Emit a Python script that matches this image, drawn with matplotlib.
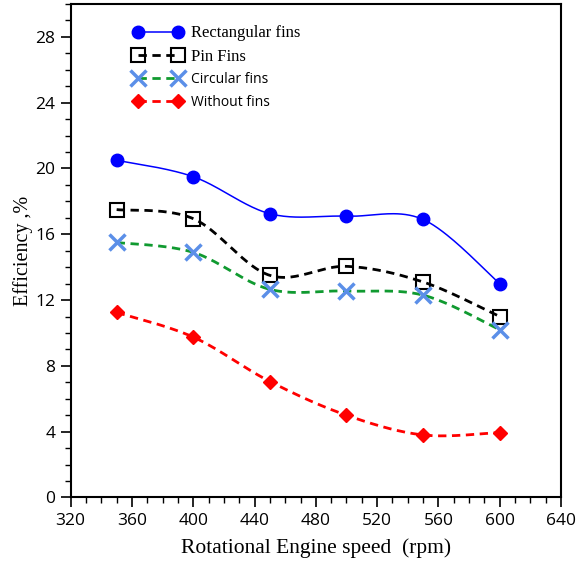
import numpy as np
import matplotlib.pyplot as plt

speed = [350, 400, 450, 500, 550, 600]
rect_fins = [20.5, 19.5, 17.25, 17.1, 16.9, 13.0]
pin_fins = [17.5, 16.95, 13.5, 14.05, 13.1, 11.0]
circ_fins = [15.5, 14.9, 12.65, 12.55, 12.3, 10.2]
no_fins = [11.25, 9.75, 7.05, 5.0, 3.8, 3.95]


def smooth(x, y, n=40):
    # Excel-like smoothed line (Catmull-Rom through the points)
    p = np.column_stack([x, y]).astype(float)
    p = np.vstack([p[0], p, p[-1]])
    out = []
    t = np.linspace(0, 1, n)[:, None]
    for i in range(1, len(p) - 2):
        a, d = p[i], p[i + 1]
        b = a + (p[i + 1] - p[i - 1]) / 6
        c = d - (p[i + 2] - p[i]) / 6
        seg = (1 - t) ** 3 * a + 3 * (1 - t) ** 2 * t * b + 3 * (1 - t) * t ** 2 * c + t ** 3 * d
        out.append(seg)
    s = np.vstack(out)
    return s[:, 0], s[:, 1]


fig = plt.figure(figsize=(5.77, 5.65), dpi=100)
ax = fig.add_axes([0.1225, 0.1195, 0.8498, 0.8735])

series = [
    (rect_fins, 'Rectangular fins', dict(color='#0000FF', ls='-', lw=1.1),
     dict(marker='o', ms=9, mfc='#0000FF', mec='#0000FF')),
    (pin_fins, 'Pin Fins', dict(color='black', ls=(0, (3, 2)), lw=2),
     dict(marker='s', ms=9.5, mfc='none', mec='black', mew=1.5)),
    (circ_fins, 'Circular fins', dict(color='#109A30', ls=(0, (3, 2)), lw=2),
     dict(marker='x', ms=11, mec='#5B8FE8', mew=2.5)),
    (no_fins, 'Without fins', dict(color='#FF0000', ls=(0, (3, 2)), lw=2),
     dict(marker='D', ms=7, mfc='#FF0000', mec='#FF0000')),
]

handles = []
for vals, name, lstyle, mstyle in series:
    sx, sy = smooth(speed, vals)
    ax.plot(sx, sy, **lstyle, zorder=2)
    ax.plot(speed, vals, ls='none', **mstyle, zorder=3)
    h, = ax.plot([], [], label=name, **lstyle, **mstyle)
    handles.append(h)

ax.set_xlim(320, 640)
ax.set_ylim(0, 30)
ax.set_xticks(np.arange(320, 641, 40))
ax.set_yticks(np.arange(0, 29, 4))
ax.set_xticks(np.arange(320, 641, 10), minor=True)
ax.set_yticks(np.arange(0, 31, 1), minor=True)
ax.tick_params(which='major', direction='out', length=7, width=1.2, labelsize=12.5, pad=4)
ax.tick_params(which='minor', direction='out', length=4, width=1.0)
for lab in ax.get_xticklabels() + ax.get_yticklabels():
    lab.set_fontfamily('Open Sans')
for sp in ax.spines.values():
    sp.set_linewidth(1.5)

ax.set_xlabel('Rotational Engine speed  (rpm)', fontsize=15.5, family='Liberation Serif', labelpad=7)
ax.set_ylabel('Efficiency ,%', fontsize=14.5, family='Liberation Serif', labelpad=2)

leg = ax.legend(handles=handles, loc='upper left', bbox_to_anchor=(0.10, 0.985),
                frameon=False, numpoints=2, handlelength=3.2, handletextpad=0.55,
                labelspacing=0.5, fontsize=11)
fams = ['Liberation Serif', 'Liberation Serif', 'Open Sans', 'Open Sans']
sizes = [12, 12, 10, 10]
for txt, f, s in zip(leg.get_texts(), fams, sizes):
    txt.set_fontfamily(f)
    txt.set_fontsize(s)

fig.savefig('out.png', dpi=100)
